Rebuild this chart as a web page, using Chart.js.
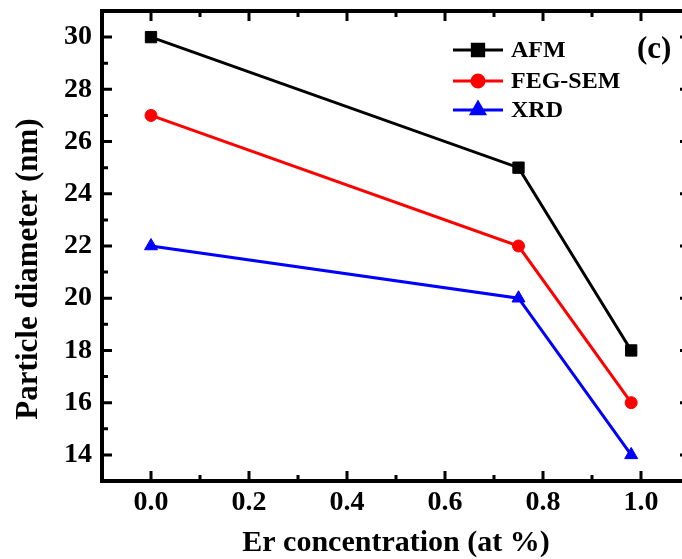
<!DOCTYPE html>
<html><head><meta charset="utf-8">
<script src="https://cdn.jsdelivr.net/npm/chart.js@4/dist/chart.umd.min.js"></script>
<style>html,body{margin:0;padding:0;background:#fff;overflow:hidden;width:682px;height:559px}#wrap{width:682px;height:559px;overflow:hidden;position:relative}canvas{display:block;position:absolute;left:0;top:0}</style>
</head><body>
<div id="wrap"><canvas id="c" width="720" height="559" style="width:720px;height:559px"></canvas></div>
<script>
const erConc = [0.0, 0.75, 0.98];
const afm = [30, 25, 18];
const fegSem = [27, 22, 16];
const xrd = [22, 20, 14];
const seriesNames = ['AFM', 'FEG-SEM', 'XRD'];
const xTicks = [0.0, 0.2, 0.4, 0.6, 0.8, 1.0];
const xMinor = [0.1, 0.3, 0.5, 0.7, 0.9];
const yTicks = [14, 16, 18, 20, 22, 24, 26, 28, 30];
const yMinor = [15, 17, 19, 21, 23, 25, 27, 29];
const panelLabel = '(c)';
const xTitle = 'Er concentration (at %)';
const yTitle = 'Particle diameter (nm)';

const FONT = "'Liberation Serif', 'Times New Roman', serif";
const pts = (ys) => erConc.map((x, i) => ({x, y: ys[i]}));

const frame = {
  id: 'frame',
  afterDatasetsDraw(chart) {
    const ctx = chart.ctx, a = chart.chartArea;
    const xs = chart.scales.x, ys = chart.scales.y;
    ctx.save();
    ctx.strokeStyle = '#000';
    ctx.lineWidth = 4;
    ctx.strokeRect(a.left, a.top, a.right - a.left, a.bottom - a.top);
    ctx.lineWidth = 3;
    ctx.beginPath();
    const maj = 10, min = 6;
    xTicks.forEach(v => { const p = xs.getPixelForValue(v);
      ctx.moveTo(p, a.bottom); ctx.lineTo(p, a.bottom - maj);
      ctx.moveTo(p, a.top); ctx.lineTo(p, a.top + maj); });
    xMinor.forEach(v => { const p = xs.getPixelForValue(v);
      ctx.moveTo(p, a.bottom); ctx.lineTo(p, a.bottom - min);
      ctx.moveTo(p, a.top); ctx.lineTo(p, a.top + min); });
    yTicks.forEach(v => { const p = ys.getPixelForValue(v);
      ctx.moveTo(a.left, p); ctx.lineTo(a.left + maj, p);
      ctx.moveTo(a.right, p); ctx.lineTo(a.right - maj, p); });
    yMinor.forEach(v => { const p = ys.getPixelForValue(v);
      ctx.moveTo(a.left, p); ctx.lineTo(a.left + min, p);
      ctx.moveTo(a.right, p); ctx.lineTo(a.right - min, p); });
    ctx.stroke();

    // legend
    const lx0 = 453, lx1 = 503, ly = [50, 81, 110];
    chart.data.datasets.forEach((ds, i) => {
      ctx.strokeStyle = ds.borderColor; ctx.lineWidth = 3;
      ctx.beginPath(); ctx.moveTo(lx0, ly[i]); ctx.lineTo(lx1, ly[i]); ctx.stroke();
      ctx.fillStyle = ds.borderColor;
      Chart.helpers.drawPoint(ctx, {pointStyle: ds.pointStyle, radius: ds.pointRadius, borderWidth: 1, rotation: 0},
        (lx0 + lx1) / 2, ly[i]);
      ctx.fillStyle = '#000';
      ctx.font = 'bold 24px ' + FONT;
      ctx.textBaseline = 'middle'; ctx.textAlign = 'left';
      ctx.fillText(ds.label, 511, ly[i] + 1);
    });
    ctx.font = 'bold 31px ' + FONT;
    ctx.textBaseline = 'middle'; ctx.textAlign = 'left';
    ctx.fillText(panelLabel, 637, 50);

    // y title
    ctx.save();
    ctx.translate(29, 269);
    ctx.rotate(-Math.PI / 2);
    ctx.font = 'bold 31px ' + FONT;
    ctx.textAlign = 'center'; ctx.textBaseline = 'middle';
    ctx.fillText(yTitle, 0, 0);
    ctx.restore();
    ctx.restore();
  }
};

const mk = (label, data, color, style, r) => ({
  label, data: pts(data), borderColor: color, backgroundColor: color,
  borderWidth: 3, pointStyle: style, pointRadius: r, pointHoverRadius: r,
  pointBorderWidth: 1, pointBorderColor: color, pointBackgroundColor: color,
  showLine: true, tension: 0, clip: false
});

const noPad = s => { s.paddingTop = 0; s.paddingBottom = 0; s.paddingLeft = 0; s.paddingRight = 0; };

new Chart(document.getElementById('c'), {
  type: 'scatter',
  data: { datasets: [
    mk(seriesNames[0], afm, '#000000', 'rect', 8),
    mk(seriesNames[1], fegSem, '#ff0000', 'circle', 6),
    mk(seriesNames[2], xrd, '#0000ff', 'triangle', 7.5)
  ]},
  options: {
    responsive: false, animation: false, devicePixelRatio: 1,
    layout: { padding: { left: 0, right: 30, top: 11, bottom: 0 } },
    plugins: { legend: { display: false }, tooltip: { enabled: false } },
    scales: {
      x: {
        type: 'linear', min: -0.1, max: 1.1,
        grid: { display: false, drawTicks: false }, border: { display: false },
        afterBuildTicks: s => { s.ticks = xTicks.map(v => ({value: v})); },
        afterFit: s => { s.height = 78; noPad(s); },
        ticks: { color: '#000', padding: 5, maxRotation: 0, font: { family: FONT, size: 28, weight: 'bold' },
          callback: v => Number(v).toFixed(1) },
        title: { display: true, text: xTitle, color: '#000',
          font: { family: FONT, size: 30, weight: 'bold' }, padding: { top: 0, bottom: -2 } }
      },
      y: {
        type: 'linear', min: 13, max: 31,
        grid: { display: false, drawTicks: false }, border: { display: false },
        afterBuildTicks: s => { s.ticks = yTicks.map(v => ({value: v})); },
        afterFit: s => { s.width = 102; noPad(s); },
        ticks: { color: '#000', padding: 10, font: { family: FONT, size: 28, weight: 'bold' } },
        title: { display: false, text: yTitle }
      }
    }
  },
  plugins: [frame]
});
</script>
</body></html>
